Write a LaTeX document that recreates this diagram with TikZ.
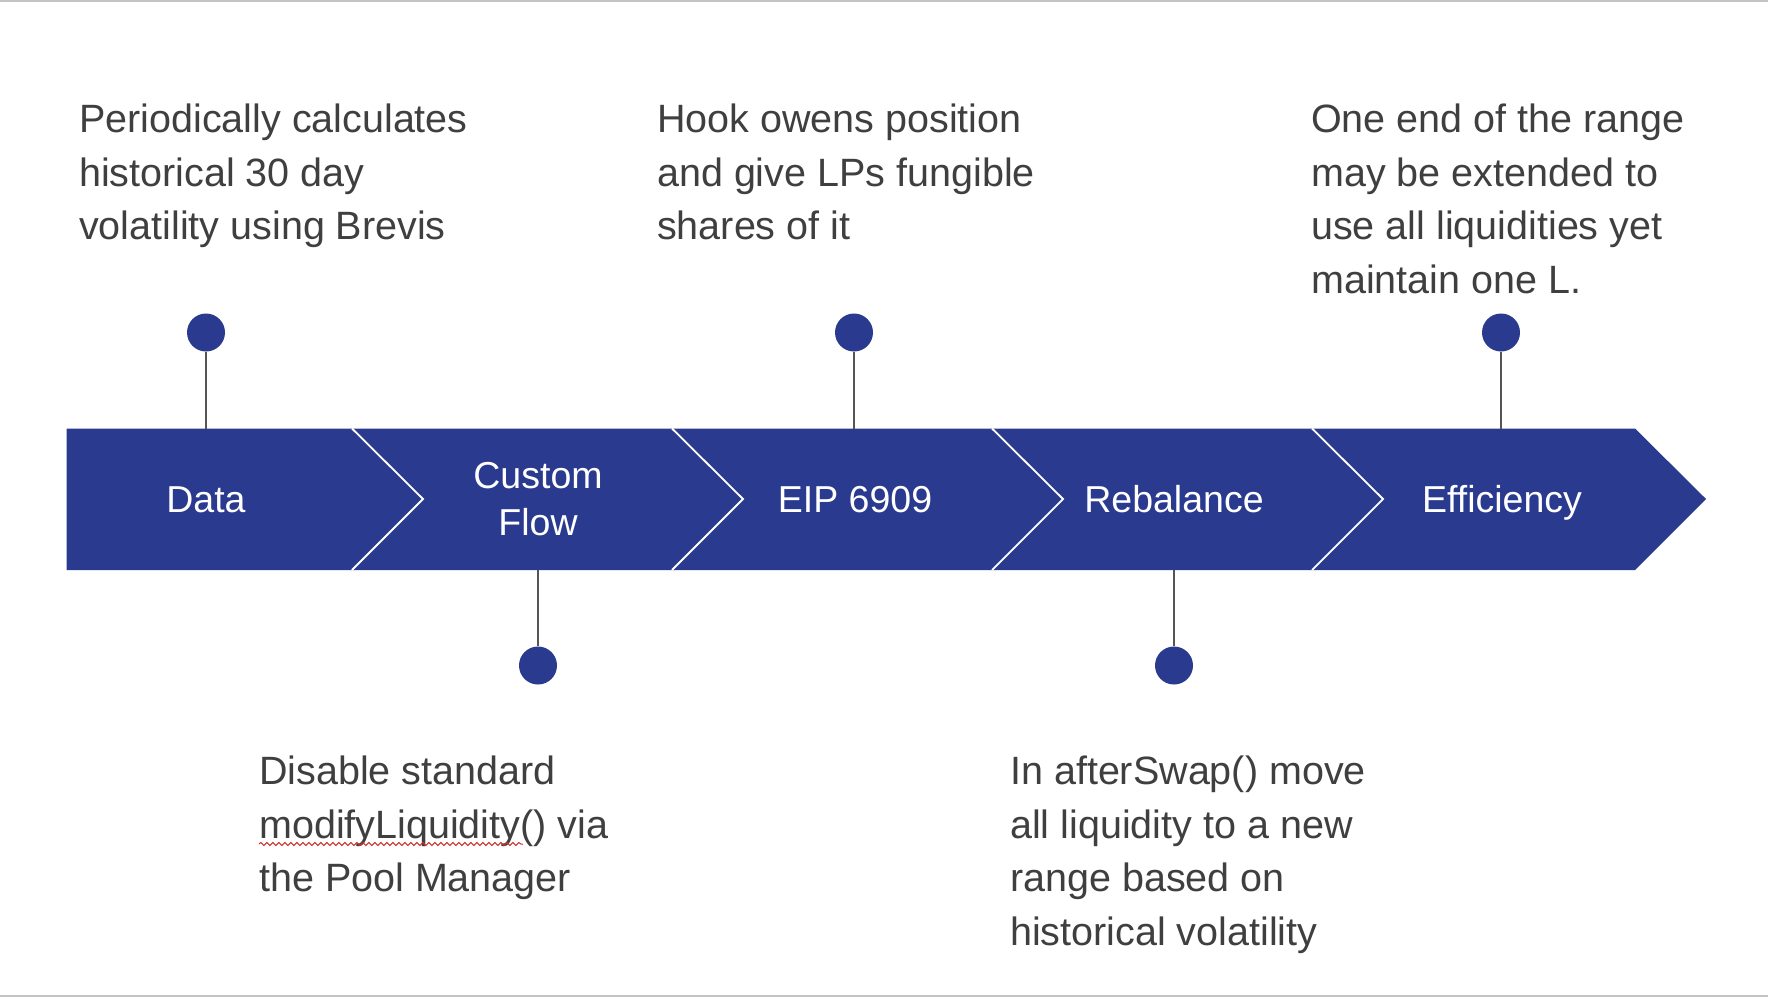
\documentclass[tikz,border=0pt]{standalone}
\usepackage{fontspec}
\setmainfont{Liberation Sans}
\usetikzlibrary{decorations.pathmorphing}
\definecolor{bandblue}{HTML}{2A3A8F}
\definecolor{txtgray}{HTML}{3F3F3F}
\definecolor{stemgray}{HTML}{555555}
\definecolor{rulegray}{HTML}{C4C4C4}
\definecolor{squig}{HTML}{D03030}
\begin{document}
\begin{tikzpicture}[x=1pt,y=-1pt,
  dot/.style={circle,fill=bandblue,minimum size=38pt,inner sep=0},
  stem/.style={draw=stemgray,line width=2pt},
  desc/.style={anchor=north west,inner sep=0,align=left,text=txtgray,font=\fontsize{39.5}{53.5}\selectfont},
  lbl/.style={inner sep=0,text=white,align=center,font=\fontsize{37.5}{47}\selectfont},
  sep/.style={draw=white,line width=1.8pt},
  band/.style={fill=bandblue},
  wavy/.style={draw=squig,line width=1pt,decorate,decoration={snake,amplitude=1.5pt,segment length=6pt}}
]
\useasboundingbox (0,0) rectangle (1768,998);
\fill[white] (0,0) rectangle (1768,998);
\draw[rulegray,line width=2pt] (0,1) -- (1768,1);
\draw[rulegray,line width=2pt] (0,996) -- (1768,996);

% band
\fill[band] (66.5,428.5) -- (1635,428.5) -- (1706,499) -- (1635,570) -- (66.5,570) -- cycle;
\foreach \xs in {352,672,992,1312}{
  \draw[sep] (\xs,428.5) -- (\xs+71,499) -- (\xs,570);
}

% labels
\node[lbl,anchor=base] (l1) at (206,512) {Data};
\node[lbl,anchor=center] (l2) at (538,499.5) {Custom\\Flow};
\node[lbl,anchor=base] (l3) at (855,512) {EIP 6909};
\node[lbl,anchor=base] (l4) at (1174,512) {Rebalance};
\node[lbl,anchor=base] (l5) at (1502,512) {Efficiency};

% dots and stems
\node[dot] (d1) at (206,332.5) {};
\node[dot] (d2) at (538,665.5) {};
\node[dot] (d3) at (854,332.5) {};
\node[dot] (d4) at (1174,665.5) {};
\node[dot] (d5) at (1501,332.5) {};
\coordinate (b1) at (206,428.5);
\coordinate (b2) at (538,570);
\coordinate (b3) at (854,428.5);
\coordinate (b4) at (1174,570);
\coordinate (b5) at (1501,428.5);
\draw[stem] (d1) -- (b1);
\draw[stem] (d2) -- (b2);
\draw[stem] (d3) -- (b3);
\draw[stem] (d4) -- (b4);
\draw[stem] (d5) -- (b5);

% descriptions
\node[desc] (t1) at (79,104) {Periodically calculates\\historical 30 day\\volatility using Brevis};
\node[desc] (t2) at (657,104) {Hook owens position\\and give LPs fungible\\shares of it};
\node[desc] (t3) at (1311,104) {One end of the range\\may be extended to\\use all liquidities yet\\maintain one L.};
\node[desc] (t4) at (259,756) {Disable standard\\modifyLiquidity() via\\the Pool Manager};
\node[desc] (t5) at (1010,756) {In afterSwap() move\\all liquidity to a new\\range based on\\historical volatility};

\coordinate (w1) at (259,844);
\coordinate (w2) at (523,844);
\draw[wavy] (w1) -- (w2);
\end{tikzpicture}
\end{document}
